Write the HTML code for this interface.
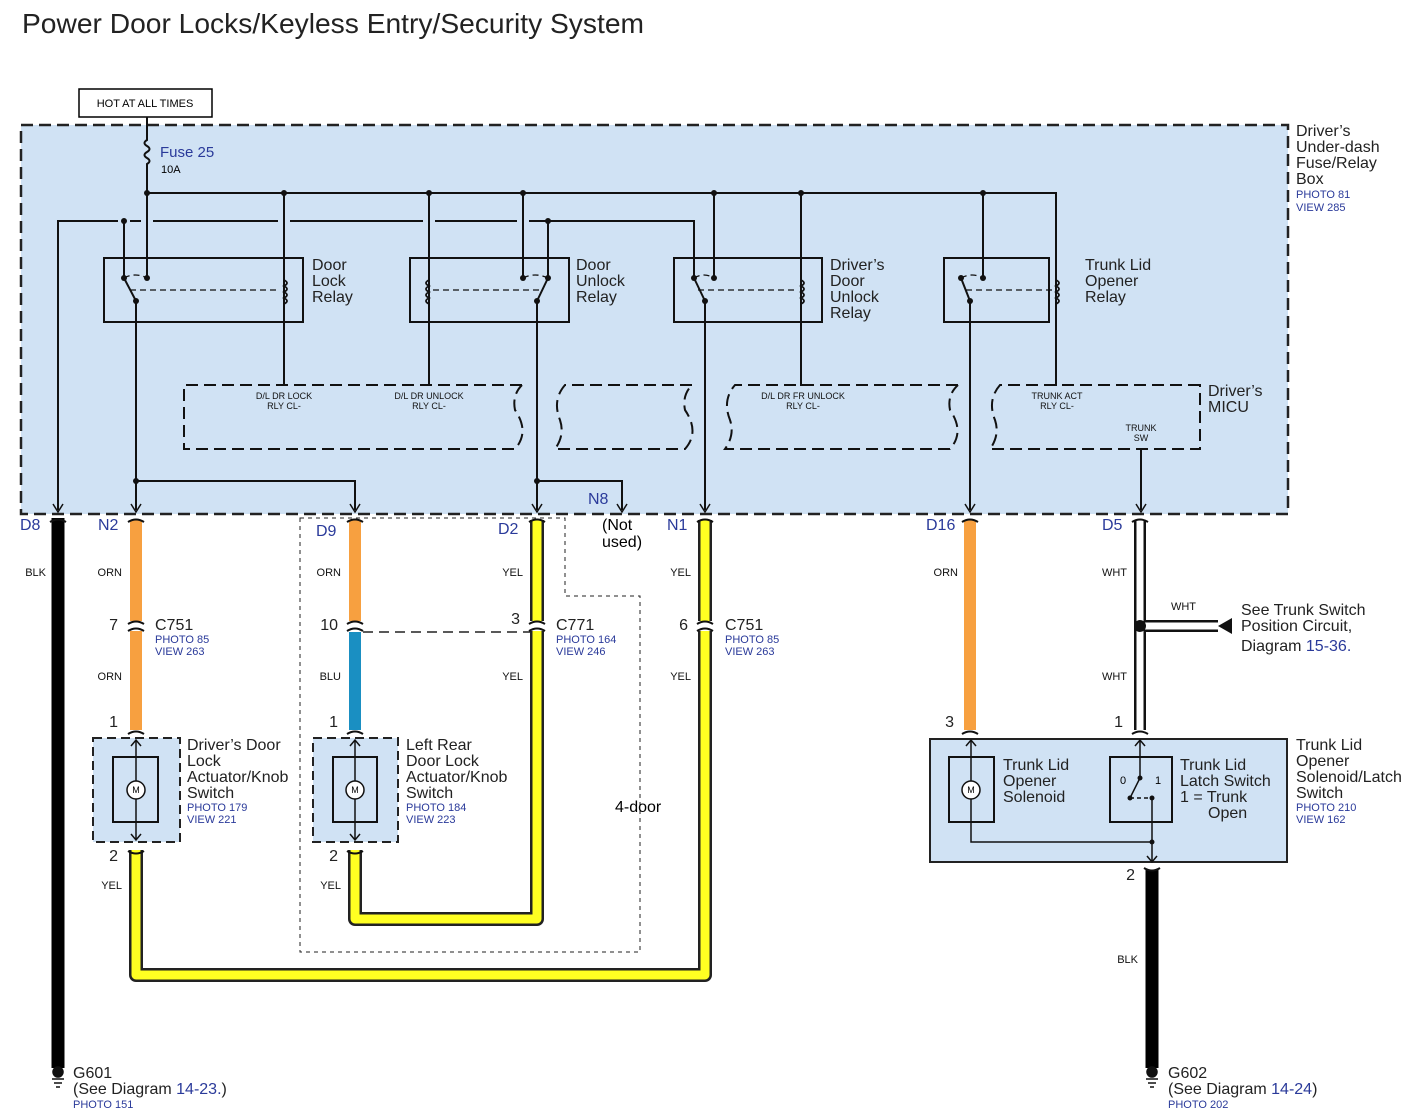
<!DOCTYPE html>
<html><head><meta charset="utf-8"><style>body{margin:0;background:#fff}svg{display:block}text{font-family:"Liberation Sans",sans-serif}</style></head><body>
<svg width="1415" height="1119" viewBox="0 0 1415 1119" xmlns="http://www.w3.org/2000/svg">
<rect width="1415" height="1119" fill="#fff"/>
<text x="22" y="33" font-size="28" fill="#222" textLength="622" lengthAdjust="spacingAndGlyphs">Power Door Locks/Keyless Entry/Security System</text>
<rect x="79" y="89" width="133" height="28" fill="#fff" stroke="#000" stroke-width="1.5"/>
<text x="145" y="107" font-size="11" text-anchor="middle">HOT AT ALL TIMES</text>
<rect x="21" y="125" width="1267" height="389" fill="#d0e2f4" stroke="#222" stroke-width="2.5" stroke-dasharray="12,6"/>
<g fill="none" stroke="#111" stroke-width="2">
<path d="M147 117V140 q-5 3 0 6 q5 3 0 6 q-5 3 0 6 q5 3 0 6 V278"/>
<path d="M147 193H1056V386"/>
<path d="M58 510V221H118 M130 221H141 M153 221H278 M290 221H423 M435 221H517 M529 221H694V278"/>
<path d="M124 221V278 M284 193V386 M136 301V481H355V510 M136 481V510"/>
<path d="M429 193V386 M523 193V278 M548 221V278 M537 301V510 M537 481H622V510"/>
<path d="M714 193V278 M801 193V386 M705 301V510"/>
<path d="M983 193V278 M970 301V510 M1141 449V510"/>
<rect x="104" y="258" width="199" height="64"/><rect x="410" y="258" width="159" height="64"/>
<rect x="674" y="258" width="148" height="64"/><rect x="944" y="258" width="105" height="64"/>
<path d="M124 278L136 301 M548 278L537 301 M694 278L705 301 M961 278L970 301"/>
</g>
<g fill="none" stroke="#111" stroke-width="1.3" stroke-dasharray="6,4">
<path d="M130 290H280 M124 278Q135 272 147 278 M433 290H542 M523 278Q535 272 548 278 M698 290H798 M694 278Q704 272 714 278 M966 290H1052 M961 278Q972 272 983 278"/>
</g>
<g fill="none" stroke="#111" stroke-width="1.8">
<path d="M284 280q6 3 0 6q6 3 0 6q6 3 0 6q6 3 0 6 M429 280q-6 3 0 6q-6 3 0 6q-6 3 0 6q-6 3 0 6 M801 280q6 3 0 6q6 3 0 6q6 3 0 6q6 3 0 6 M1056 280q6 3 0 6q6 3 0 6q6 3 0 6q6 3 0 6"/>
</g>
<g fill="none" stroke="#111" stroke-width="2" stroke-dasharray="12,6">
<path d="M522 385H184V449H515 Q530 432 515 410 Q512 395 522 385"/>
<path d="M692 385H565 Q552 400 560 420 Q565 435 555 449H685 Q700 432 685 410 Q682 395 692 385"/>
<path d="M958 385H735 Q722 400 730 420 Q735 435 725 449H950 Q965 432 950 410 Q947 395 958 385"/>
<path d="M1200 385H1000 Q987 400 995 420 Q1000 435 990 449H1200Z"/>
</g>
<g fill="#111">
<circle cx="147" cy="193" r="3"/><circle cx="284" cy="193" r="3"/><circle cx="429" cy="193" r="3"/><circle cx="523" cy="193" r="3"/><circle cx="714" cy="193" r="3"/><circle cx="801" cy="193" r="3"/><circle cx="983" cy="193" r="3"/>
<circle cx="124" cy="221" r="3"/><circle cx="548" cy="221" r="3"/><circle cx="136" cy="481" r="3"/><circle cx="537" cy="481" r="3"/>
<circle cx="124" cy="278" r="3"/><circle cx="147" cy="278" r="3"/><circle cx="136" cy="301" r="3"/>
<circle cx="523" cy="278" r="3"/><circle cx="548" cy="278" r="3"/><circle cx="537" cy="301" r="3"/>
<circle cx="694" cy="278" r="3"/><circle cx="714" cy="278" r="3"/><circle cx="705" cy="301" r="3"/>
<circle cx="961" cy="278" r="3"/><circle cx="983" cy="278" r="3"/><circle cx="970" cy="301" r="3"/>
</g>
<g fill="none" stroke="#111" stroke-width="1.5">
<path d="M53 504l5 8 5-8 M131 504l5 8 5-8 M350 504l5 8 5-8 M532 504l5 8 5-8 M617 504l5 8 5-8 M700 504l5 8 5-8 M965 504l5 8 5-8 M1136 504l5 8 5-8"/>
</g>
<text x="160" y="157" font-size="15" fill="#2a3a9a">Fuse 25</text><text x="161" y="173" font-size="11">10A</text>
<g font-size="16" fill="#222">
<text x="312" y="270">Door</text><text x="312" y="286">Lock</text><text x="312" y="302">Relay</text>
<text x="576" y="270">Door</text><text x="576" y="286">Unlock</text><text x="576" y="302">Relay</text>
<text x="830" y="270">Driver’s</text><text x="830" y="286">Door</text><text x="830" y="302">Unlock</text><text x="830" y="318">Relay</text>
<text x="1085" y="270">Trunk Lid</text><text x="1085" y="286">Opener</text><text x="1085" y="302">Relay</text>
<text x="1296" y="136">Driver’s</text><text x="1296" y="152">Under-dash</text><text x="1296" y="168">Fuse/Relay</text><text x="1296" y="184">Box</text>
<text x="1208" y="396">Driver’s</text><text x="1208" y="412">MICU</text>
</g>
<text x="1296" y="198" font-size="11" fill="#2a3a9a">PHOTO 81</text><text x="1296" y="211" font-size="11" fill="#2a3a9a">VIEW 285</text>
<g font-size="9" text-anchor="middle" fill="#111">
<text x="284" y="399">D/L DR LOCK</text><text x="284" y="409">RLY CL-</text>
<text x="429" y="399">D/L DR UNLOCK</text><text x="429" y="409">RLY CL-</text>
<text x="803" y="399">D/L DR FR UNLOCK</text><text x="803" y="409">RLY CL-</text>
<text x="1057" y="399">TRUNK ACT</text><text x="1057" y="409">RLY CL-</text>
<text x="1141" y="431">TRUNK</text><text x="1141" y="441">SW</text>
</g>
<path d="M300 518H565V596H640V952H300Z" fill="none" stroke="#222" stroke-width="1" stroke-dasharray="4,4"/>
<text x="615" y="812" font-size="16">4-door</text>
<g fill="none" stroke-linejoin="round">
<path d="M58 518V1068" stroke="#000" stroke-width="13"/>
<path d="M1152 870V1068" stroke="#000" stroke-width="13"/>
<path d="M537 520V919H355V850 M705 520V975H136V850" stroke="#222" stroke-width="14"/>
<path d="M537 520V919H355V850 M705 520V975H136V850" stroke="#ffff22" stroke-width="9"/>
<path d="M136 520V730 M355 520V626 M970 520V730" stroke="#f7a040" stroke-width="12"/>
<path d="M355 632V730" stroke="#1a8fc2" stroke-width="12"/>
<path d="M1140 520V730 M1140 626H1218" stroke="#111" stroke-width="12"/>
<path d="M1140 520V730 M1140 626H1218" stroke="#fff" stroke-width="7"/>
</g>
<path d="M1218 626l14-8v16z" fill="#111"/><circle cx="1140" cy="626" r="6" fill="#111"/>
<g fill="#fff"><rect x="125" y="621" width="24" height="10"/><rect x="344" y="621" width="24" height="10"/><rect x="526" y="621" width="24" height="10"/><rect x="694" y="621" width="24" height="10"/></g>
<g fill="none" stroke="#111" stroke-width="2">
<path d="M128 624q8-5 16 0 M128 631q8-5 16 0 M347 624q8-5 16 0 M347 631q8-5 16 0 M529 624q8-5 16 0 M529 631q8-5 16 0 M697 624q8-5 16 0 M697 631q8-5 16 0"/>
<path d="M128 522q8-5 16 0 M347 522q8-5 16 0 M529 522q8-5 16 0 M697 522q8-5 16 0 M962 522q8-5 16 0 M1132 522q8-5 16 0 M50 522q8-5 16 0"/>
<path d="M128 734q8-5 16 0 M347 734q8-5 16 0 M962 734q8-5 16 0 M1132 734q8-5 16 0"/>
<path d="M128 851q8 5 16 0 M347 851q8 5 16 0 M1144 868q8 5 16 0"/>
</g>
<path d="M363 632H530" stroke="#222" stroke-width="1.5" stroke-dasharray="10,6"/>
<rect x="93" y="738" width="87" height="104" fill="#d0e2f4" stroke="#222" stroke-width="2" stroke-dasharray="9,5"/>
<rect x="313" y="738" width="85" height="104" fill="#d0e2f4" stroke="#222" stroke-width="2" stroke-dasharray="9,5"/>
<rect x="930" y="739" width="357" height="123" fill="#d0e2f4" stroke="#222" stroke-width="2"/>
<g fill="none" stroke="#111" stroke-width="2">
<rect x="113" y="757" width="45" height="65"/><rect x="333" y="757" width="44" height="65"/>
<rect x="949" y="757" width="45" height="65"/><rect x="1110" y="757" width="62" height="65"/>
</g>
<g fill="none" stroke="#111" stroke-width="1.5">
<path d="M136 740V840 M131 746l5-6 5 6 M131 834l5 6 5-6 M355 740V840 M350 746l5-6 5 6 M350 834l5 6 5-6"/>
<path d="M971 740V842H1152 M966 746l5-6 5 6 M1140 740V778L1130 798 M1135 746l5-6 5 6 M1152 798V862 M1147 856l5 6 5-6"/>
<path d="M1130 798H1152" stroke-dasharray="4,3"/>
</g>
<g fill="#fff" stroke="#111" stroke-width="1.5">
<circle cx="136" cy="790" r="9"/><circle cx="355" cy="790" r="9"/><circle cx="971" cy="790" r="9"/>
</g>
<g font-size="9" text-anchor="middle"><text x="136" y="793">M</text><text x="355" y="793">M</text><text x="971" y="793">M</text></g>
<g fill="#111"><circle cx="1140" cy="778" r="2.5"/><circle cx="1130" cy="798" r="2.5"/><circle cx="1152" cy="798" r="2.5"/><circle cx="1152" cy="842" r="2.5"/></g>
<text x="1120" y="784" font-size="11">0</text><text x="1155" y="784" font-size="11">1</text>
<g font-size="16" fill="#2a3a9a">
<text x="20" y="530">D8</text><text x="98" y="530">N2</text><text x="316" y="536">D9</text><text x="498" y="534">D2</text><text x="588" y="504">N8</text><text x="667" y="530">N1</text><text x="926" y="530">D16</text><text x="1102" y="530">D5</text>
</g>
<text x="602" y="530" font-size="16">(Not</text><text x="602" y="547" font-size="16">used)</text>
<g font-size="11" fill="#111" text-anchor="end">
<text x="46" y="576">BLK</text><text x="122" y="576">ORN</text><text x="122" y="680">ORN</text><text x="341" y="576">ORN</text><text x="341" y="680">BLU</text>
<text x="523" y="576">YEL</text><text x="523" y="680">YEL</text><text x="691" y="576">YEL</text><text x="691" y="680">YEL</text>
<text x="958" y="576">ORN</text><text x="1127" y="576">WHT</text><text x="1127" y="680">WHT</text><text x="1196" y="610">WHT</text>
<text x="122" y="889">YEL</text><text x="341" y="889">YEL</text><text x="1138" y="963">BLK</text>
</g>
<g font-size="16" fill="#222" text-anchor="end">
<text x="118" y="630">7</text><text x="338" y="630">10</text><text x="520" y="624">3</text><text x="688" y="630">6</text>
<text x="118" y="727">1</text><text x="338" y="727">1</text><text x="954" y="727">3</text><text x="1123" y="727">1</text>
<text x="118" y="861">2</text><text x="338" y="861">2</text><text x="1135" y="880">2</text>
</g>
<g font-size="16" fill="#222">
<text x="155" y="630">C751</text><text x="556" y="630">C771</text><text x="725" y="630">C751</text>
<text x="187" y="750">Driver’s Door</text><text x="187" y="766">Lock</text><text x="187" y="782">Actuator/Knob</text><text x="187" y="798">Switch</text>
<text x="406" y="750">Left Rear</text><text x="406" y="766">Door Lock</text><text x="406" y="782">Actuator/Knob</text><text x="406" y="798">Switch</text>
<text x="1003" y="770">Trunk Lid</text><text x="1003" y="786">Opener</text><text x="1003" y="802">Solenoid</text>
<text x="1180" y="770">Trunk Lid</text><text x="1180" y="786">Latch Switch</text><text x="1180" y="802">1 = Trunk</text><text x="1208" y="818">Open</text>
<text x="1296" y="750">Trunk Lid</text><text x="1296" y="766">Opener</text><text x="1296" y="782">Solenoid/Latch</text><text x="1296" y="798">Switch</text>
<text x="1241" y="615">See Trunk Switch</text><text x="1241" y="631">Position Circuit,</text><text x="1241" y="651">Diagram <tspan fill="#2a3a9a">15-36.</tspan></text>
<text x="73" y="1078">G601</text><text x="73" y="1094">(See Diagram <tspan fill="#2a3a9a">14-23.</tspan>)</text>
<text x="1168" y="1078">G602</text><text x="1168" y="1094">(See Diagram <tspan fill="#2a3a9a">14-24</tspan>)</text>
</g>
<g font-size="11" fill="#2a3a9a">
<text x="155" y="643">PHOTO 85</text><text x="155" y="655">VIEW 263</text>
<text x="556" y="643">PHOTO 164</text><text x="556" y="655">VIEW 246</text>
<text x="725" y="643">PHOTO 85</text><text x="725" y="655">VIEW 263</text>
<text x="187" y="811">PHOTO 179</text><text x="187" y="823">VIEW 221</text>
<text x="406" y="811">PHOTO 184</text><text x="406" y="823">VIEW 223</text>
<text x="1296" y="811">PHOTO 210</text><text x="1296" y="823">VIEW 162</text>
<text x="73" y="1108">PHOTO 151</text><text x="1168" y="1108">PHOTO 202</text>
</g>
<g fill="#111" stroke="#111" stroke-width="1.5">
<circle cx="58" cy="1072" r="5"/><path d="M52 1079H64 M54 1083H62 M56 1087H60"/>
<circle cx="1152" cy="1072" r="5"/><path d="M1146 1079H1158 M1148 1083H1156 M1150 1087H1154"/>
</g>
</svg>
</body></html>
